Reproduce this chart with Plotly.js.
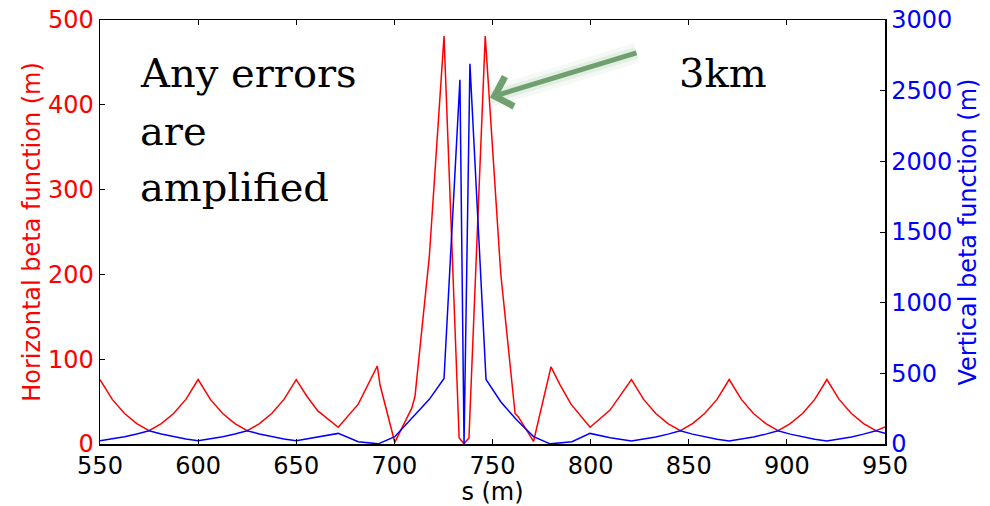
<!DOCTYPE html>
<html>
<head>
<meta charset="utf-8">
<script src="https://cdn.plot.ly/plotly-3.0.1.min.js"></script>
<style>html,body{margin:0;padding:0;background:#fff;}#chart{width:990px;height:506px;}</style>
</head>
<body>
<div id="chart"></div>
<script>
// Horizontal beta function (left axis, red)
const sHorizontal = [550, 556.25, 562.5, 568.75, 575, 581.25, 587.5, 593.75, 600, 606.25, 612.5, 618.75, 625, 631.25, 637.5, 643.75, 650, 655.5, 661, 671.4, 681.6, 691.3, 692.7, 700.2, 708.8, 710.5, 717.8, 725.3, 733, 735.5, 738, 746.3, 754.2, 761.5, 763.2, 770.9, 779.8, 784.5, 790, 799.7, 809.9, 820.8, 827, 833.2, 839.4, 845.7, 851.9, 858.1, 864.4, 870.6, 876.8, 883, 889.3, 895.5, 901.7, 908, 914.2, 920.4, 926.6, 932.9, 939.1, 945.4, 950];
const betaHorizontal = [76, 52.6, 36, 24, 15.7, 24, 36, 52.6, 76, 52.6, 36, 24, 15.7, 24, 36, 52.6, 76, 56, 39, 19.7, 47, 92, 69.5, 2, 42, 56, 221, 481, 7, 0.5, 7, 481, 201, 36, 32, 3, 91, 69.5, 47, 19.7, 40, 76, 52.6, 36, 24, 15.7, 24, 36, 52.6, 76, 52.6, 36, 24, 15.7, 24, 36, 52.6, 76, 52.6, 36, 24, 15.7, 20];

// Vertical beta function (right axis, blue)
const sVertical = [550, 556.25, 562.5, 568.75, 575, 581.25, 587.5, 593.75, 600, 606.25, 612.5, 618.75, 625, 631.25, 637.5, 643.75, 650, 661, 671.4, 681.6, 691.8, 700.2, 708.8, 717.8, 725.3, 733.4, 735.5, 738.5, 746.7, 754.2, 762, 770.9, 779.4, 790.5, 799.7, 810, 820.8, 827, 833.2, 839.4, 845.7, 851.9, 858.1, 864.4, 870.6, 876.8, 883, 889.3, 895.5, 901.7, 908, 914.2, 920.4, 926.6, 932.9, 939.1, 945.4, 950];
const betaVertical = [23, 36, 52, 71, 94, 71, 52, 36, 23, 36, 52, 71, 94, 71, 52, 36, 23, 47, 75, 16, 1, 52, 180, 316, 464, 2577, 0, 2690, 457, 299, 175, 52, 1, 16, 75, 45, 21, 34, 50, 70, 94, 70, 50, 34, 21, 34, 50, 70, 94, 70, 50, 34, 21, 34, 50, 70, 94, 75];

const xTicks = [550, 600, 650, 700, 750, 800, 850, 900, 950];
const yLeftTicks = [0, 100, 200, 300, 400, 500];
const yRightTicks = [0, 500, 1000, 1500, 2000, 2500, 3000];

const font = 'DejaVu Sans, sans-serif';
const serif = 'DejaVu Serif, serif';

const traces = [
  {x: sHorizontal, y: betaHorizontal, type: 'scatter', mode: 'lines', name: 'Horizontal',
   line: {color: '#ff0000', width: 1.5}, yaxis: 'y', hoverinfo: 'skip'},
  {x: sVertical, y: betaVertical, type: 'scatter', mode: 'lines', name: 'Vertical',
   line: {color: '#0000ff', width: 1.5}, yaxis: 'y2', hoverinfo: 'skip'}
];

const arrowColor = 'rgb(112,160,112)';
const layout = {
  width: 990, height: 506,
  margin: {l: 100, r: 105, t: 20, b: 62},
  paper_bgcolor: '#ffffff', plot_bgcolor: '#ffffff',
  showlegend: false,
  font: {family: font, size: 24, color: '#000'},
  xaxis: {
    range: [550, 950], tickvals: xTicks, ticktext: xTicks.map(String),
    ticks: 'inside', ticklen: 5, tickwidth: 1, tickcolor: '#000',
    showline: true, linecolor: '#000', linewidth: 1.5, mirror: 'ticks',
    showgrid: false, zeroline: false,
    tickfont: {family: font, size: 24, color: '#000'},
    title: {text: 's (m)', font: {family: font, size: 24, color: '#000'}, standoff: 6}
  },
  yaxis: {
    range: [0, 500], tickvals: yLeftTicks, ticktext: yLeftTicks.map(String),
    ticks: 'inside', ticklen: 5, tickwidth: 1, tickcolor: '#000',
    showline: true, linecolor: '#000', linewidth: 1.5,
    showgrid: false, zeroline: false, automargin: 'left',
    tickfont: {family: font, size: 24, color: '#ff0000'},
    title: {text: 'Horizontal beta function (m)', font: {family: font, size: 24, color: '#ff0000'}, standoff: 0}
  },
  yaxis2: {
    range: [0, 3000], tickvals: yRightTicks, ticktext: yRightTicks.map(String),
    overlaying: 'y', side: 'right',
    ticks: 'inside', ticklen: 5, tickwidth: 1, tickcolor: '#000',
    showline: true, linecolor: '#000', linewidth: 1.5,
    showgrid: false, zeroline: false,
    tickfont: {family: font, size: 24, color: '#0000ff'},
    title: {text: 'Vertical beta function (m)', font: {family: font, size: 24, color: '#0000ff'}, standoff: 8}
  },
  annotations: [
    {xref: 'x', yref: 'y', x: 748.7, y: 408.7, ax: 148, ay: -45, text: '', showarrow: true,
     arrowhead: 0, arrowwidth: 20, arrowcolor: 'rgba(150,200,150,0.09)'},
    {xref: 'x', yref: 'y', x: 748.7, y: 408.7, ax: 148, ay: -45, text: '', showarrow: true,
     arrowhead: 0, arrowwidth: 12, arrowcolor: 'rgba(140,190,140,0.16)'},
    {xref: 'x', yref: 'y', x: 748.7, y: 408.7, ax: 148, ay: -45, text: '', showarrow: true,
     arrowhead: 4, arrowsize: 1.2, arrowwidth: 5, arrowcolor: arrowColor},
    {xref: 'paper', yref: 'paper', x: 0.049, y: 0.875, xanchor: 'left', yanchor: 'middle',
     text: 'Any errors', showarrow: false, font: {family: serif, size: 40, color: '#000'}},
    {xref: 'paper', yref: 'paper', x: 0.049, y: 0.738, xanchor: 'left', yanchor: 'middle',
     text: 'are', showarrow: false, font: {family: serif, size: 40, color: '#000'}},
    {xref: 'paper', yref: 'paper', x: 0.049, y: 0.607, xanchor: 'left', yanchor: 'middle',
     text: 'amplified', showarrow: false, font: {family: serif, size: 40, color: '#000'}},
    {xref: 'paper', yref: 'paper', x: 0.735, y: 0.875, xanchor: 'left', yanchor: 'middle',
     text: '3km', showarrow: false, font: {family: serif, size: 40, color: '#000'}}
  ]
};

Plotly.newPlot('chart', traces, layout, {staticPlot: true, displayModeBar: false});
</script>
</body>
</html>
